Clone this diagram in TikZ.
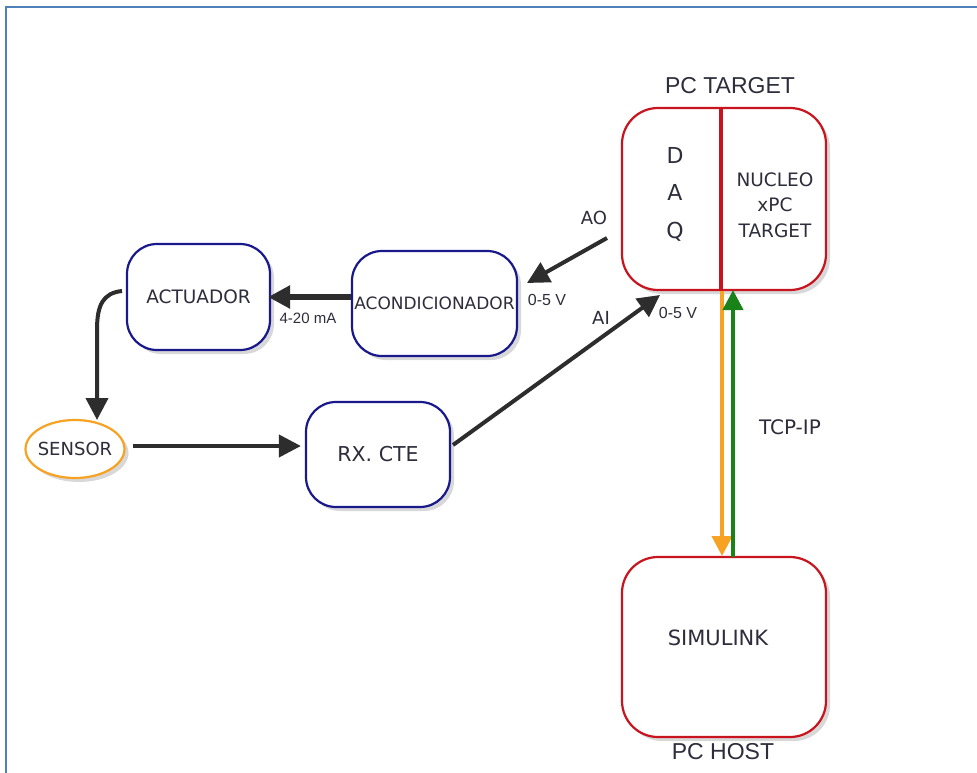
\documentclass[tikz,border=0pt]{standalone}
\usepackage{fontspec}
\setmainfont{Liberation Sans}
\newfontfamily\comicf{DejaVu Sans}
\usetikzlibrary{arrows.meta,shadows,calc,shapes.geometric}
\definecolor{frameblue}{RGB}{79,129,189}
\definecolor{boxred}{RGB}{200,20,30}
\definecolor{boxnavy}{RGB}{25,25,140}
\definecolor{sensororange}{RGB}{247,162,35}
\definecolor{arrowgreen}{RGB}{25,130,25}
\definecolor{arrowdark}{RGB}{45,45,45}
\definecolor{txt}{RGB}{45,45,60}
\tikzset{
  shadowed/.style={drop shadow={shadow xshift=4pt,shadow yshift=-4pt,opacity=0.3,fill=gray}},
  bluebox/.style={draw=boxnavy,line width=2.2pt,rounded corners=30pt,fill=white,shadowed,text=txt,font=\comicf\fontsize{18.5}{20}\selectfont,inner sep=0pt},
  redbox/.style={draw=boxred,line width=2.2pt,rounded corners=36pt,fill=white,shadowed,inner sep=0pt},
  lbl/.style={text=txt,font=\fontsize{15}{17}\selectfont,inner sep=0pt},
  clbl/.style={text=txt,font=\comicf\fontsize{20}{22}\selectfont,inner sep=0pt},
  title/.style={text=txt,font=\fontsize{23}{27}\selectfont,inner sep=0pt},
  darrow/.style={draw=arrowdark,line width=4pt,-{Triangle[length=22pt,width=22pt]}},
}
\begin{document}
\begin{tikzpicture}[x=1pt,y=-1pt]
\useasboundingbox (0,0) rectangle (977,773);
\fill[white] (0,0) rectangle (977,773);
% frame
\draw[frameblue,line width=2pt] (6,773) -- (6,7) -- (977,7);

% PC TARGET
\node[redbox,minimum width=204pt,minimum height=182pt] (target) at (724,199) {};
\coordinate (divT) at (721,108);
\coordinate (divB) at (721,290);
\draw[boxred,line width=3.2pt] (divT) -- (divB);
\node[title] (targetlbl) at (730,86) {PC TARGET};
\node[clbl,align=center,font=\comicf\fontsize{22}{37.5}\selectfont] (daq) at (675,194) {D\\A\\Q};
\node[clbl,align=center,font=\comicf\fontsize{18.5}{25.5}\selectfont] (nucleo) at (775,205) {NUCLEO\\xPC\\TARGET};

% PC HOST
\node[redbox,minimum width=204pt,minimum height=180pt] (host) at (724,647) {};
\node[clbl,font=\comicf\fontsize{21}{23}\selectfont] (simulink) at (718,638) {SIMULINK};
\node[title] (hostlbl) at (723,752) {PC HOST};

% blue boxes
\node[bluebox,minimum width=143pt,minimum height=106pt] (act) at (198.5,297) {ACTUADOR};
\node[bluebox,minimum width=165pt,minimum height=105pt,font=\comicf\fontsize{17}{19}\selectfont] (acond) at (434.5,303.5) {ACONDICIONADOR};
\node[bluebox,minimum width=144pt,minimum height=105pt,font=\comicf\fontsize{20.5}{22}\selectfont] (rx) at (378,454.5) {RX. CTE};

% sensor
\node[ellipse,draw=sensororange,line width=2.2pt,fill=white,shadowed,minimum width=99pt,minimum height=58pt,inner xsep=-6pt,inner ysep=0pt,text=txt,font=\comicf\fontsize{18}{20}\selectfont] (sensor) at (75,449) {SENSOR};

% labels
\node[lbl,font=\fontsize{16}{18}\selectfont] (v1) at (547,300) {0-5 V};
\node[lbl] (ma) at (308,318) {4-20 mA};
\node[lbl,font=\fontsize{16}{18}\selectfont] (v2) at (678,313) {0-5 V};
\node[clbl,font=\comicf\fontsize{18}{20}\selectfont] (ao) at (594,218) {AO};
\node[clbl,font=\comicf\fontsize{18}{20}\selectfont] (ai) at (601,318) {AI};
\node[clbl] (tcp) at (790,427) {TCP-IP};

% connectors
\draw[darrow,line width=5.5pt] (acond.west |- act.east) -- ([xshift=-3pt]act.east);
\coordinate (aoS) at (607,238);
\coordinate (aoE) at (527,283);
\draw[darrow] (aoS) -- (aoE);
\coordinate (aiS) at (453,445);
\coordinate (aiE) at (660,295);
\draw[darrow] (aiS) -- (aiE);
\coordinate (curS) at (122,291);
\coordinate (curE) at (97,420);
\draw[darrow] (curS) .. controls (103,293) and (97,305) .. (97,330) -- (curE);
\draw[darrow] ([xshift=7pt]sensor.east |- 0,446) -- ([xshift=-4pt]rx.west |- 0,446);

% TCP-IP arrows
\coordinate (oS) at (722,291);
\coordinate (oE) at (722,556);
\draw[draw=sensororange,line width=4pt,-{Triangle[length=20pt,width=20pt]}] (oS) -- (oE);
\coordinate (gS) at (733,557);
\coordinate (gE) at (733,290);
\draw[draw=arrowgreen,line width=4pt,-{Triangle[length=20pt,width=20pt]}] (gS) -- (gE);
\end{tikzpicture}
\end{document}
